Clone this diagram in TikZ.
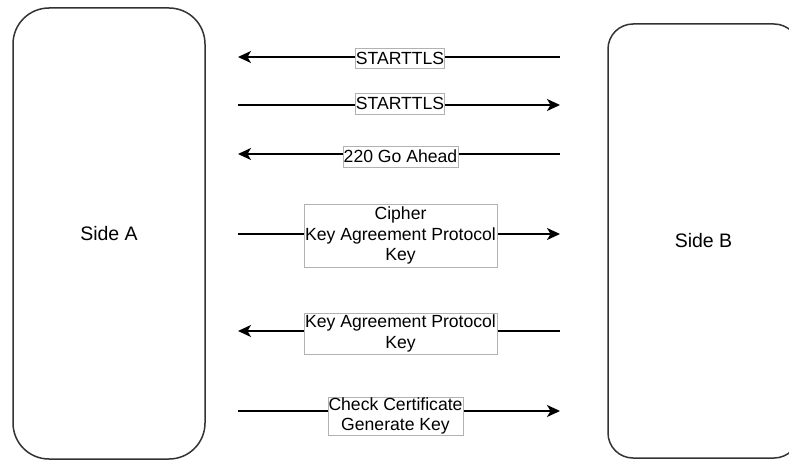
\documentclass[tikz,border=0pt]{standalone}
\usepackage{fontspec}
\setmainfont{Liberation Sans}
\usepackage{tikz}
\usetikzlibrary{arrows.meta,positioning}
\tikzset{
  side/.style={draw=black!80, line width=1.5pt, rectangle, fill=white, font=\fontsize{19.5}{23}\selectfont}
}
\tikzset{
  msg/.style={draw=black!30, line width=0.8pt, fill=white, inner sep=0pt, align=center, font=\fontsize{17.6}{20.5}\selectfont},
  flow/.style={line width=1.7pt, -{Stealth[length=13pt, width=12pt, inset=3.5pt]}}
}

\begin{document}
\begin{tikzpicture}[x=1pt, y=-1pt]
        \useasboundingbox (0,0) rectangle (789,460);

        % The two parties
        \node[side, rounded corners=36pt, minimum width=192pt, minimum height=451pt] (sideA) at (109,233.5) {Side A};
        \node[side, rounded corners=25pt, minimum width=191pt, minimum height=434pt] (sideB) at (703.5,241) {Side B};

        % Ends of the message arrows
        \coordinate (a1) at (238,57);   \coordinate (b1) at (560,57);
        \coordinate (a2) at (238,105);  \coordinate (b2) at (560,105);
        \coordinate (a3) at (238,154);  \coordinate (b3) at (560,154);
        \coordinate (a4) at (238,234);  \coordinate (b4) at (560,234);
        \coordinate (a5) at (238,331);  \coordinate (b5) at (560,331);
        \coordinate (a6) at (238,411);  \coordinate (b6) at (560,411);

        % Message arrows
        \draw[flow] (b1) -- (a1);
        \draw[flow] (a2) -- (b2);
        \draw[flow] (b3) -- (a3);
        \draw[flow] (a4) -- (b4);
        \draw[flow] (b5) -- (a5);
        \draw[flow] (a6) -- (b6);

        % Message labels
        \node[msg, minimum width=88pt, minimum height=20pt] (m1) at (400,58) {STARTTLS};
        \node[msg, minimum width=88pt, minimum height=21pt] (m2) at (400,103.5) {STARTTLS};
        \node[msg, minimum width=115pt, minimum height=21pt] (m3) at (400.5,156.5) {220 Go Ahead};
        \node[msg, minimum width=193pt, minimum height=63pt] (m4) at (400.5,235.5) {Cipher\\Key Agreement Protocol\\Key};
        \node[msg, minimum width=193pt, minimum height=41pt] (m5) at (400.5,333.5) {Key Agreement Protocol\\Key};
        \node[msg, minimum width=135pt, minimum height=38pt] (m6) at (395.5,416) {Check Certificate\\Generate Key};
    \end{tikzpicture}
\end{document}
